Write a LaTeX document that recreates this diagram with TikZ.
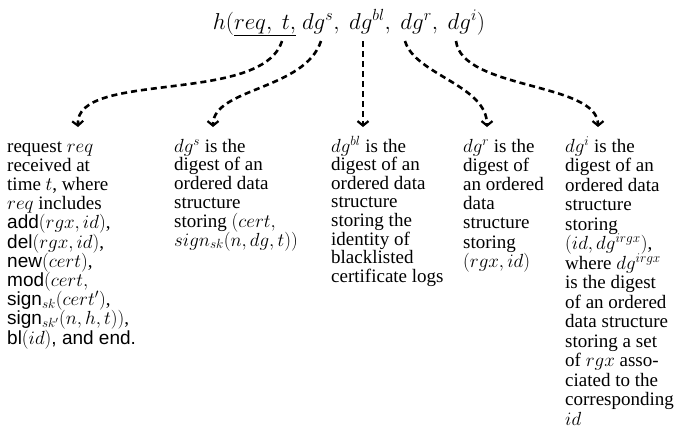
\RequirePackage{fix-cm}
\documentclass[tikz,border=0pt]{standalone}
\usepackage[no-math]{fontspec}
\setmainfont{Liberation Serif}
\setsansfont{Liberation Sans}
\usetikzlibrary{arrows.meta}
\begin{document}
\begin{tikzpicture}[x=1pt,y=-1pt,
  coltext/.style={anchor=base west,inner sep=0pt,font=\fontsize{19}{#1}\selectfont},
  coltext/.default=18.8,
  ptr/.style={line width=2.6pt,dash pattern=on 6pt off 4pt,
    -{Straight Barb[length=4.5pt,width=11pt,line width=2.2pt]}}]
\useasboundingbox (0,0) rectangle (675,429);
\newcommand{\colbox}[2]{\parbox[t]{#1}{\lineskiplimit=-100pt\relax #2}}
\node[anchor=base,inner sep=0pt,font=\fontsize{23}{26}\selectfont] (hd) at (349,29)
  {$h(\underline{req,\ t,}\ dg^s,\ dg^{bl},\ dg^r,\ dg^i)$};
\node[coltext=19.2] (c1) at (7,152) {\colbox{160pt}{%
request $req$\\
received at\\
time $t$, where\\
$req$ includes\\
\textsf{add}$(rgx, id)$,\\
\textsf{del}$(rgx, id)$,\\
\textsf{new}$(cert)$,\\
\textsf{mod}$(cert,$\\
\textsf{sign}$_{sk}(cert')$,\\
\textsf{sign}$_{sk'}(n,h,t))$,\\
\textsf{bl}$(id)$\textsf{, and end.}}};
\node[coltext] (c2) at (174,152) {\colbox{150pt}{%
$dg^s$ is the\\
digest of an\\
ordered data\\
structure\\
storing $(cert,$\\
$sign_{sk}(n, dg, t))$}};
\node[coltext=18.6] (c3) at (331,152) {\colbox{125pt}{%
$dg^{bl}$ is the\\
digest of an\\
ordered data\\
structure\\
storing the\\
identity of\\
blacklisted\\
certificate logs}};
\node[coltext=19.2] (c4) at (463,152) {\colbox{100pt}{%
$dg^r$ is the\\
digest of\\
an ordered\\
data\\
structure\\
storing\\
$(rgx, id)$}};
\node[coltext=19.5] (c5) at (565,152) {\colbox{108pt}{%
$dg^i$ is the\\
digest of an\\
ordered data\\
structure\\
storing\\
$(id, dg^{irgx})$,\\
where $dg^{irgx}$\\
is the digest\\
of an ordered\\
data structure\\
storing a set\\
of $rgx$ asso-\\
ciated to the\\
corresponding\\
$id$}};
\coordinate (s1) at (282,41);
\coordinate (s2) at (321,41);
\coordinate (s3) at (363,41);
\coordinate (s4) at (405,41);
\coordinate (s5) at (456,41);
\coordinate (e1) at (78,127);
\coordinate (e2) at (213,127);
\coordinate (e3) at (363,127);
\coordinate (e4) at (487,127);
\coordinate (e5) at (598,127);
\draw[ptr] (s1) .. controls (262,105) and (75,70) .. (e1);
\draw[ptr] (s2) .. controls (305,90) and (213,88) .. (e2);
\draw[ptr] (s3) -- (e3);
\draw[ptr] (s4) .. controls (415,75) and (487,85) .. (e4);
\draw[ptr] (s5) .. controls (462,90) and (598,82) .. (e5);
\end{tikzpicture}
\end{document}
